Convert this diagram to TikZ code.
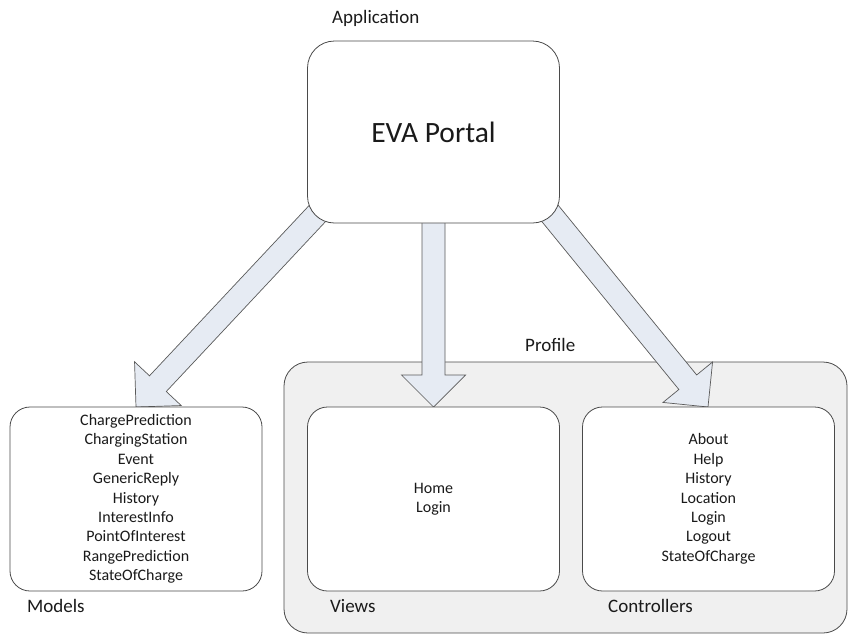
\documentclass[tikz,border=0pt]{standalone}
\usepackage{fontspec}
\setmainfont{Carlito}
\usetikzlibrary{calc}
\definecolor{boxline}{HTML}{4A4A4A}
\definecolor{arrowfill}{HTML}{E6EBF3}
\definecolor{arrowline}{HTML}{5A5A5A}
\definecolor{groupfill}{HTML}{F0F0F0}
\definecolor{txt}{HTML}{1A1A1A}
\tikzset{
  card/.style={draw=boxline, line width=0.8pt, fill=white, rounded corners=20pt,
    minimum width=252pt, minimum height=184pt, inner sep=0pt, align=center, text=txt,
    font=\fontsize{16}{19.4}\selectfont},
  bigcard/.style={card, rounded corners=27pt, minimum height=182pt, font=\fontsize{29.5}{34}\selectfont},
  grouplbl/.style={anchor=west, inner sep=0pt, text=txt, font=\fontsize{19}{22}\selectfont},
  blockarrow/.style={draw=arrowline, line width=0.7pt, fill=arrowfill, line join=miter},
}
\newcommand{\blockarr}[2]{%
  \coordinate (ba-base) at ($(#2)!32pt!(#1)$);
  \draw[blockarrow]
    ($(#1)!11.5pt!90:(#2)$) -- ($(ba-base)!11.5pt!90:(#2)$) -- ($(ba-base)!32pt!90:(#2)$)
    -- (#2) -- ($(ba-base)!32pt!-90:(#2)$) -- ($(ba-base)!11.5pt!-90:(#2)$)
    -- ($(#1)!11.5pt!-90:(#2)$) -- cycle;}
\begin{document}
\begin{tikzpicture}[x=1pt,y=-1pt]
\useasboundingbox (0,0) rectangle (848,635);
% group box
\draw[draw=boxline, line width=0.8pt, fill=groupfill, rounded corners=24pt]
  (284,362) rectangle (847,633);
\node[grouplbl] (lblprofile) at (525,345) {Profile};
% arrow anchors
\coordinate (sL) at (330,200);
\coordinate (tL) at (136,407);
\coordinate (sM) at (433.5,200);
\coordinate (tM) at (433.5,407);
\coordinate (sR) at (535,195);
\coordinate (tR) at (708,407);
\blockarr{sL}{tL}
\blockarr{sM}{tM}
\blockarr{sR}{tR}
% boxes
\node[bigcard] (eva) at (433.5,132) {EVA Portal};
\node[card] (models) at (136,499) {ChargePrediction\\ChargingStation\\Event\\GenericReply\\History\\InterestInfo\\PointOfInterest\\RangePrediction\\StateOfCharge};
\node[card] (views) at (433.5,499) {Home\\Login};
\node[card] (controllers) at (708.5,499) {About\\Help\\History\\Location\\Login\\Logout\\StateOfCharge};
% labels
\node[grouplbl] (lblapp) at (332,18) {Application};
\node[grouplbl] (lblmodels) at (27,606) {Models};
\node[grouplbl] (lblviews) at (330,606) {Views};
\node[grouplbl] (lblcontrollers) at (608,606) {Controllers};
\end{tikzpicture}
\end{document}
